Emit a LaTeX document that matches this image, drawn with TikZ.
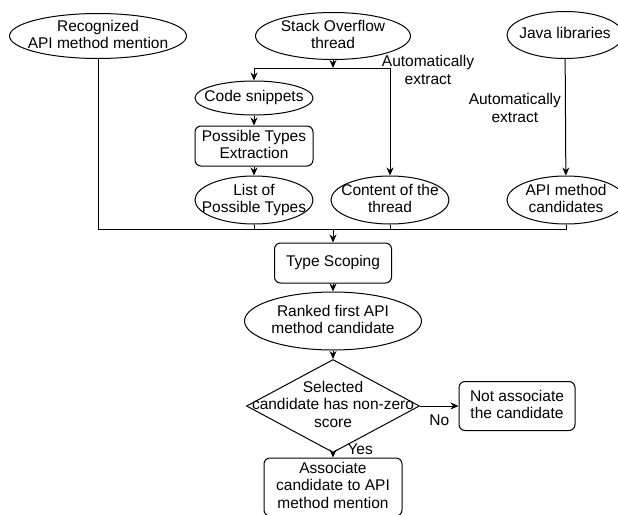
\documentclass[tikz,border=0pt]{standalone}
\usepackage{fontspec}
\setmainfont{Liberation Sans}
\usetikzlibrary{shapes.geometric,arrows.meta}

% centred text that is allowed to run past the outline of its shape
\newcommand{\txt}[1]{\smash{\raisebox{-0.25em}{\makebox[0pt]{\begin{tabular}{@{}c@{}}#1\end{tabular}}}}}

\begin{document}
\begin{tikzpicture}[x=1pt,y=-1pt,line width=1pt,
    font=\fontsize{15.5}{17.5}\selectfont,
    >={Stealth[length=8pt,width=7pt]},
    lbl/.style={inner sep=0pt,align=center}]
  \useasboundingbox (0,0) rectangle (618,514);
  % inputs and intermediate results
  \begin{scope}[every node/.style={ellipse,draw,inner sep=0pt}]
    \node[minimum width=177pt,minimum height=45pt] (mention) at (98,36) {\txt{Recognized\\API method mention}};
    \node[minimum width=155pt,minimum height=47pt] (so) at (333,36) {\txt{Stack Overflow\\thread}};
    \node[minimum width=116pt,minimum height=47pt] (java) at (565,35) {\txt{Java libraries}};
    \node[minimum width=118pt,minimum height=34pt] (code) at (254,98) {\txt{Code snippets}};
    \node[minimum width=118pt,minimum height=48pt] (types) at (254,200) {\txt{List of\\Possible Types}};
    \node[minimum width=118pt,minimum height=48pt] (content) at (390,200) {\txt{Content of the\\thread}};
    \node[minimum width=118pt,minimum height=48pt] (cands) at (566,200) {\txt{API method\\candidates}};
    \node[minimum width=177pt,minimum height=58pt] (ranked) at (333,321) {\txt{Ranked first API\\method candidate}};
  \end{scope}
  % processing steps
  \begin{scope}[every node/.style={rectangle,rounded corners=6pt,draw,inner sep=0pt}]
    \node[minimum width=118pt,minimum height=40pt] (extraction) at (254,146) {\txt{Possible Types\\Extraction}};
    \node[minimum width=117pt,minimum height=40pt] (scoping) at (333,263) {\txt{Type Scoping}};
    \node[minimum width=116pt,minimum height=49pt] (skip) at (517,406) {\txt{Not associate\\the candidate}};
    \node[minimum width=138pt,minimum height=58pt] (assoc) at (333,487) {\txt{Associate\\candidate to API\\method mention}};
  \end{scope}
  \node[diamond,draw,inner sep=0pt,minimum width=173pt,minimum height=93pt] (check) at (333,406)
    {\txt{Selected\\candidate has non-zero\\score}};

  \coordinate (split) at (333,68);
  \coordinate (bus) at (333,229);

  \draw[->] (so) -- (split);
  \draw[->] (split) -| (code);
  \draw[->] (split) -| node[lbl,pos=0.5,xshift=38pt,yshift=-2pt] (extract1) {Automatically\\extract} (content);
  \draw[->] (java) -- node[lbl,pos=0.42,left=4pt] (extract2) {Automatically\\extract} (cands);
  \draw[->] (code) -- (extraction);
  \draw[->] (extraction) -- (types);

  % everything meets on one line above the scoping step
  \draw (mention) |- (bus);
  \draw (types) |- (bus);
  \draw (content) |- (bus);
  \draw (cands) |- (bus);
  \draw[->] (bus) -- (scoping);

  \draw[->] (scoping) -- (ranked);
  \draw[->] (ranked) -- (check);
  \draw[->] (check) -- node[lbl,below=8pt] (no) {No} (skip);
  \draw[->] (check) -- node[lbl,pos=0,anchor=west,xshift=14pt,yshift=4pt] (yes) {Yes} (assoc);
\end{tikzpicture}
\end{document}
